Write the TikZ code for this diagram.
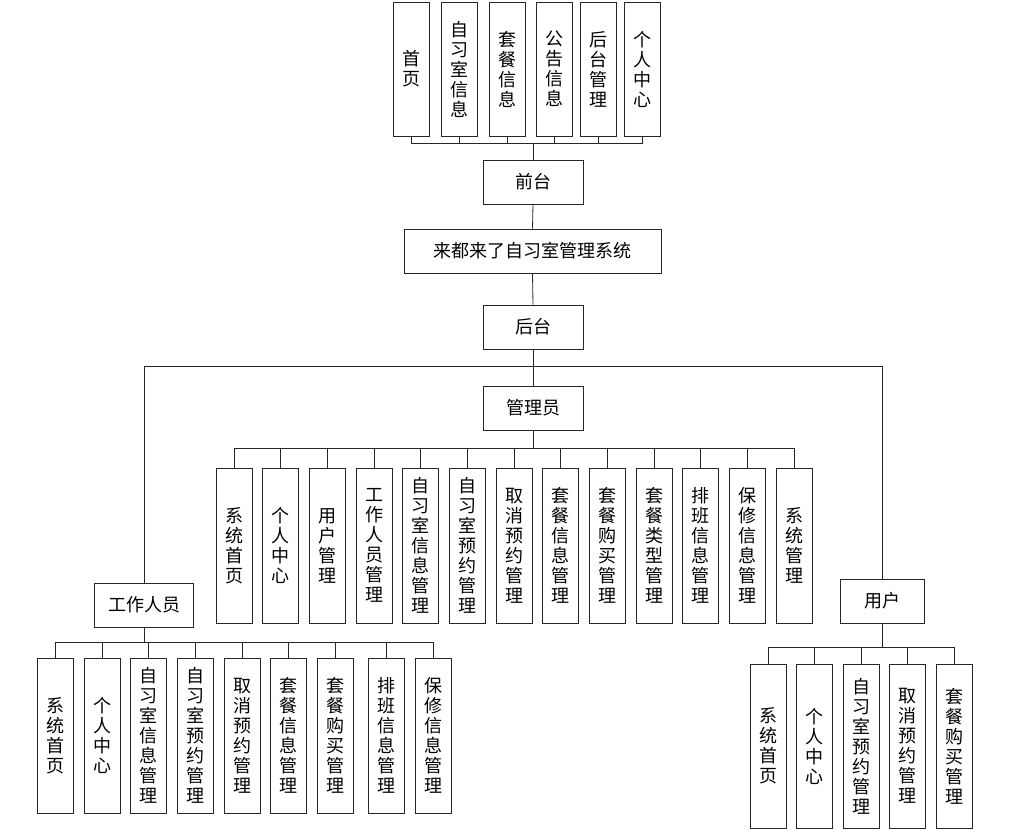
\documentclass[tikz,border=0pt]{standalone}
\usepackage{fontspec}
\newfontfamily\cjk{Noto Sans CJK SC}
\usepackage{tikz}
\usetikzlibrary{shapes,arrows}

\begin{document}
\begin{tikzpicture}[x=1pt,y=-1pt]
				\useasboundingbox (0,0) rectangle (1026,830);
				\tikzstyle{every node}=[draw=black!85, line width=0.8pt, inner sep=0pt, align=center, font=\cjk\fontsize{18}{20}\selectfont];
				\tikzstyle{hbox}=[minimum width=100pt, minimum height=44pt];
				\tikzstyle{vbox}=[minimum width=36pt, minimum height=155pt];
				\tikzstyle{link}=[draw=black!85, line width=0.8pt];
				\node [hbox] (front) at (533, 182) {前台};
				\node [vbox, minimum height=134pt] (t01) at (411.5, 69) {首\\页};
				\node [vbox, minimum height=134pt] (t02) at (459.5, 69) {自\\习\\室\\信\\息};
				\node [vbox, minimum height=134pt] (t03) at (507, 69) {套\\餐\\信\\息};
				\node [vbox, minimum height=134pt] (t04) at (554, 69) {公\\告\\信\\息};
				\node [vbox, minimum height=134pt] (t05) at (598.5, 69) {后\\台\\管\\理};
				\node [vbox, minimum height=134pt] (t06) at (642.5, 69) {个\\人\\中\\心};
				\foreach \n in {t01,t02,t03,t04,t05,t06}
					\draw [link] (front.north) -- ++(0,-16) -| (\n.south);
				\node [hbox, minimum width=257pt] (root) at (532.5, 251) {来都来了自习室管理系统};
				\node [hbox] (back) at (533, 327) {后台};
				\draw [link] (front.south) -- (root.north);
				\draw [link] (root.south) -- (back.north);
				\node [hbox] (admin) at (533, 408) {管理员};
				\node [hbox, minimum width=99pt] (staff) at (144, 605) {工作人员};
				\node [hbox, minimum width=84pt] (user) at (882, 601) {用户};
				\draw [link] (back.south) -- (admin.north);
				\draw [link] (back.south) -- ++(0,17) -| (staff.north);
				\draw [link] (back.south) -- ++(0,17) -| (user.north);
				\node [vbox] (a01) at (234, 545.5) {系\\统\\首\\页};
				\node [vbox] (a02) at (280.67, 545.5) {个\\人\\中\\心};
				\node [vbox] (a03) at (327.33, 545.5) {用\\户\\管\\理};
				\node [vbox] (a04) at (374, 545.5) {工\\作\\人\\员\\管\\理};
				\node [vbox] (a05) at (420.67, 545.5) {自\\习\\室\\信\\息\\管\\理};
				\node [vbox] (a06) at (467.33, 545.5) {自\\习\\室\\预\\约\\管\\理};
				\node [vbox] (a07) at (514, 545.5) {取\\消\\预\\约\\管\\理};
				\node [vbox] (a08) at (560.67, 545.5) {套\\餐\\信\\息\\管\\理};
				\node [vbox] (a09) at (607.33, 545.5) {套\\餐\\购\\买\\管\\理};
				\node [vbox] (a10) at (654, 545.5) {套\\餐\\类\\型\\管\\理};
				\node [vbox] (a11) at (700.67, 545.5) {排\\班\\信\\息\\管\\理};
				\node [vbox] (a12) at (747.33, 545.5) {保\\修\\信\\息\\管\\理};
				\node [vbox] (a13) at (794, 545.5) {系\\统\\管\\理};
				\foreach \n in {a01,a02,a03,a04,a05,a06,a07,a08,a09,a10,a11,a12,a13}
					\draw [link] (admin.south) -- ++(0,18) -| (\n.north);
				\node [vbox] (s01) at (55, 735.5) {系\\统\\首\\页};
				\node [vbox] (s02) at (102, 735.5) {个\\人\\中\\心};
				\node [vbox] (s03) at (148.5, 735.5) {自\\习\\室\\信\\息\\管\\理};
				\node [vbox] (s04) at (195, 735.5) {自\\习\\室\\预\\约\\管\\理};
				\node [vbox] (s05) at (242, 735.5) {取\\消\\预\\约\\管\\理};
				\node [vbox] (s06) at (288.5, 735.5) {套\\餐\\信\\息\\管\\理};
				\node [vbox] (s07) at (335, 735.5) {套\\餐\\购\\买\\管\\理};
				\node [vbox] (s08) at (386, 735.5) {排\\班\\信\\息\\管\\理};
				\node [vbox] (s09) at (433, 735.5) {保\\修\\信\\息\\管\\理};
				\foreach \n in {s01,s02,s03,s04,s05,s06,s07,s08,s09}
					\draw [link] (staff.south) -- ++(0,15) -| (\n.north);
				\node [vbox, minimum height=164pt] (u01) at (768, 746) {系\\统\\首\\页};
				\node [vbox, minimum height=164pt] (u02) at (814.5, 746) {个\\人\\中\\心};
				\node [vbox, minimum height=164pt] (u03) at (861, 746) {自\\习\\室\\预\\约\\管\\理};
				\node [vbox, minimum height=164pt] (u04) at (907.5, 746) {取\\消\\预\\约\\管\\理};
				\node [vbox, minimum height=164pt] (u05) at (954.5, 746) {套\\餐\\购\\买\\管\\理};
				\foreach \n in {u01,u02,u03,u04,u05}
					\draw [link] (user.south) -- ++(0,24) -| (\n.north);
			\end{tikzpicture}
\end{document}
